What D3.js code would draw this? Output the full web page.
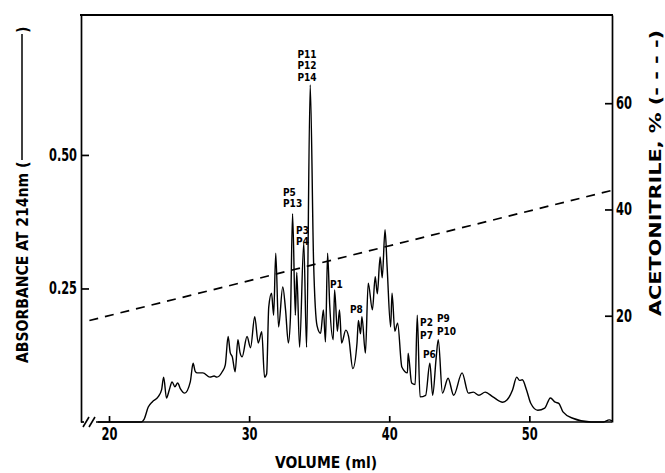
<!DOCTYPE html>
<html>
<head>
<meta charset="utf-8">
<script src="https://cdn.jsdelivr.net/npm/d3@7"></script>
<style>
  body { margin: 0; background: #fff; }
  svg text { font-family: 'Liberation Sans Narrow', 'DejaVu Sans Condensed', 'Arial Narrow', sans-serif; font-weight: bold; fill: #000; }
</style>
</head>
<body>
<div id="chart"></div>
<script>
// elution volume (ml) and absorbance at 214 nm
const volume = [
  19.2, 22.3, 22.5, 22.8, 23.1, 23.5, 23.75, 23.9, 24.1, 24.3, 24.5, 24.7, 24.9, 25.1, 25.4, 25.8,
  26.0, 26.15, 26.3, 26.7, 27.2, 27.5, 27.7, 28.1, 28.3, 28.5, 28.65, 28.8, 29.0, 29.2, 29.35, 29.5,
  29.85, 30.1, 30.4, 30.65, 30.9, 31.1, 31.25, 31.4, 31.6, 31.75, 31.9, 32.1, 32.4, 32.6, 32.8, 32.95,
  33.1, 33.3, 33.4, 33.6, 33.9, 34.1, 34.36, 34.6, 34.85, 35.1, 35.3, 35.45, 35.6, 35.75, 36.0, 36.1,
  36.3, 36.45, 36.6, 36.9, 37.1, 37.4, 37.7, 37.8, 37.95, 38.05, 38.3, 38.5, 38.8, 39.0, 39.15, 39.35,
  39.5, 39.7, 39.85, 40.1, 40.2, 40.4, 40.6, 40.9, 41.3, 41.35, 41.6, 41.85, 42.0, 42.2, 42.6, 42.9,
  43.1, 43.35, 43.5, 43.8, 44.2, 44.6, 45.2, 45.65, 46.0, 46.4, 46.85, 47.4, 48.1, 48.4, 48.8, 49.1,
  49.3, 49.5, 49.8, 50.1, 50.6, 51.1, 51.5, 51.85, 52.1, 52.4, 53.1, 54.4, 55.3, 55.7, 55.9,
];
const absorbance = [
  0, 0, 0.005, 0.028, 0.038, 0.047, 0.06, 0.084, 0.045, 0.06, 0.075, 0.066, 0.073, 0.062, 0.054, 0.075,
  0.11, 0.095, 0.092, 0.092, 0.084, 0.086, 0.084, 0.095, 0.107, 0.16, 0.13, 0.122, 0.094, 0.154, 0.13, 0.122,
  0.16, 0.139, 0.197, 0.148, 0.169, 0.084, 0.09, 0.215, 0.241, 0.2, 0.316, 0.178, 0.253, 0.21, 0.148, 0.197,
  0.39, 0.2, 0.28, 0.14, 0.335, 0.14, 0.631, 0.3, 0.18, 0.166, 0.21, 0.15, 0.316, 0.22, 0.154, 0.247,
  0.17, 0.21, 0.148, 0.172, 0.16, 0.1, 0.148, 0.19, 0.165, 0.197, 0.129, 0.26, 0.21, 0.272, 0.24, 0.309,
  0.27, 0.36, 0.29, 0.178, 0.241, 0.17, 0.185, 0.103, 0.092, 0.129, 0.073, 0.07, 0.2, 0.047, 0.05, 0.11,
  0.05, 0.12, 0.154, 0.054, 0.082, 0.05, 0.092, 0.054, 0.056, 0.05, 0.056, 0.047, 0.037, 0.041, 0.06, 0.084,
  0.078, 0.079, 0.06, 0.035, 0.022, 0.026, 0.045, 0.037, 0.035, 0.019, 0.007, 0, 0, 0.004, 0.002,
];

// acetonitrile gradient (dashed)
const gradientVolume = [18.6, 55.9];
const gradientPercent = [19.1, 43.6];

// tick labels
const volumeTicks = [20, 30, 40, 50];
const absorbanceTicks = [0.25, 0.5];
const percentTicks = [20, 40, 60];

// peak annotations: text and the (volume, absorbance) of its baseline
const peakNames = ['P11', 'P12', 'P14', 'P5', 'P13', 'P3', 'P4', 'P1', 'P8', 'P2', 'P7', 'P6', 'P9', 'P10'];
const peakVolume = [34.13, 34.13, 34.13, 32.42, 32.42, 33.35, 33.35, 35.77, 37.2, 42.2, 42.2, 42.41, 43.41, 43.41];
const peakAbsorbance = [0.681, 0.66, 0.639, 0.424, 0.403, 0.352, 0.331, 0.251, 0.204, 0.179, 0.156, 0.12, 0.187, 0.163];
const peakAnchor = ['middle', 'middle', 'middle', 'start', 'start', 'start', 'start', 'start', 'start', 'start', 'start', 'start', 'start', 'start'];

const width = 665;
const height = 473;
const plotLeft = 81, plotRight = 612, plotTop = 15, plotBottom = 422;

const svg = d3
  .select('#chart')
  .append('svg')
  .attr('width', width)
  .attr('height', height);

const x = d3.scaleLinear().domain([18, 55.9]).range([plotLeft, plotRight]);
const y = d3.scaleLinear().domain([0, 0.762]).range([plotBottom, plotTop]);
const y2 = d3.scaleLinear().domain([0, 76.6]).range([plotBottom, plotTop]);

// narrow the tick numbers like the original lettering
const numWidth = s => s.replace('.', '').length * 8 + (s.includes('.') ? 4 : 0);

// left axis
const axL = svg
  .append('g')
  .attr('transform', `translate(${plotLeft},0)`)
  .call(d3.axisLeft(y).tickValues(absorbanceTicks).tickFormat(d3.format('.2f')).tickSize(-8).tickSizeOuter(0).tickPadding(4));

// right axis
const axR = svg
  .append('g')
  .attr('transform', `translate(${plotRight},0)`)
  .call(d3.axisRight(y2).tickValues(percentTicks).tickSize(-7).tickSizeOuter(0).tickPadding(4));

// bottom axis, domain drawn by hand because of the break
const axB = svg
  .append('g')
  .attr('transform', `translate(0,${plotBottom})`)
  .call(d3.axisBottom(x).tickValues(volumeTicks).tickSize(-6).tickPadding(6));
axB.select('.domain').remove();

[axL, axR, axB].forEach(g => {
  g.selectAll('.domain, .tick line').attr('stroke', '#000').attr('stroke-width', 1.7);
  g.selectAll('.tick text')
    .style('font-size', '17px')
    .attr('lengthAdjust', 'spacingAndGlyphs')
    .attr('textLength', function () {
      return numWidth(this.textContent);
    });
});

svg
  .append('line')
  .attr('x1', 96).attr('x2', plotRight)
  .attr('y1', plotBottom).attr('y2', plotBottom)
  .attr('stroke', '#000').attr('stroke-width', 1.7);
svg
  .append('line')
  .attr('x1', plotLeft).attr('x2', 84)
  .attr('y1', plotBottom).attr('y2', plotBottom)
  .attr('stroke', '#000').attr('stroke-width', 1.7);
svg
  .append('line')
  .attr('x1', plotLeft - 1).attr('x2', plotRight + 1)
  .attr('y1', plotTop).attr('y2', plotTop)
  .attr('stroke', '#000').attr('stroke-width', 2);

// axis break marks
[0, 6].forEach(dx => {
  svg
    .append('line')
    .attr('x1', 83 + dx).attr('y1', plotBottom + 5)
    .attr('x2', 89 + dx).attr('y2', plotBottom - 5)
    .attr('stroke', '#000').attr('stroke-width', 1.6);
});

// gradient line
svg
  .append('path')
  .datum(d3.range(gradientVolume.length))
  .attr('fill', 'none')
  .attr('stroke', '#000')
  .attr('stroke-width', 1.7)
  .attr('stroke-dasharray', '9,7')
  .attr('d', d3.line().x(i => x(gradientVolume[i])).y(i => y2(gradientPercent[i])));

// chromatogram
svg
  .append('path')
  .datum(d3.range(volume.length))
  .attr('fill', 'none')
  .attr('stroke', '#000')
  .attr('stroke-width', 1.4)
  .attr('stroke-linejoin', 'round')
  .attr('d', d3.line().curve(d3.curveMonotoneX).x(i => x(volume[i])).y(i => y(absorbance[i])));

// peak labels
svg
  .append('g')
  .selectAll('text')
  .data(peakNames)
  .join('text')
  .attr('x', (d, i) => x(peakVolume[i]))
  .attr('y', (d, i) => y(peakAbsorbance[i]))
  .attr('text-anchor', (d, i) => peakAnchor[i])
  .style('font-size', '10px')
  .text(d => d);

// axis titles
svg
  .append('text')
  .attr('transform', 'translate(28,363) rotate(-90)')
  .attr('textLength', 190)
  .attr('lengthAdjust', 'spacingAndGlyphs')
  .style('font-size', '16px')
  .text('ABSORBANCE AT 214nm');
svg
  .append('text')
  .attr('transform', 'translate(28,168) rotate(-90)')
  .style('font-size', '16px')
  .text('(');
svg
  .append('line')
  .attr('x1', 22).attr('x2', 22)
  .attr('y1', 160).attr('y2', 34)
  .attr('stroke', '#000').attr('stroke-width', 1.5);
svg
  .append('text')
  .attr('transform', 'translate(28,33) rotate(-90)')
  .style('font-size', '16px')
  .text(')');

svg
  .append('text')
  .attr('transform', 'translate(661,316) rotate(-90)')
  .attr('textLength', 286)
  .attr('lengthAdjust', 'spacingAndGlyphs')
  .style('font-size', '16px')
  .text('ACETONITRILE, % (- - - -)');

svg
  .append('text')
  .attr('x', 326)
  .attr('y', 468)
  .attr('text-anchor', 'middle')
  .attr('textLength', 102)
  .attr('lengthAdjust', 'spacingAndGlyphs')
  .style('font-size', '16px')
  .text('VOLUME (ml)');
</script>
</body>
</html>
